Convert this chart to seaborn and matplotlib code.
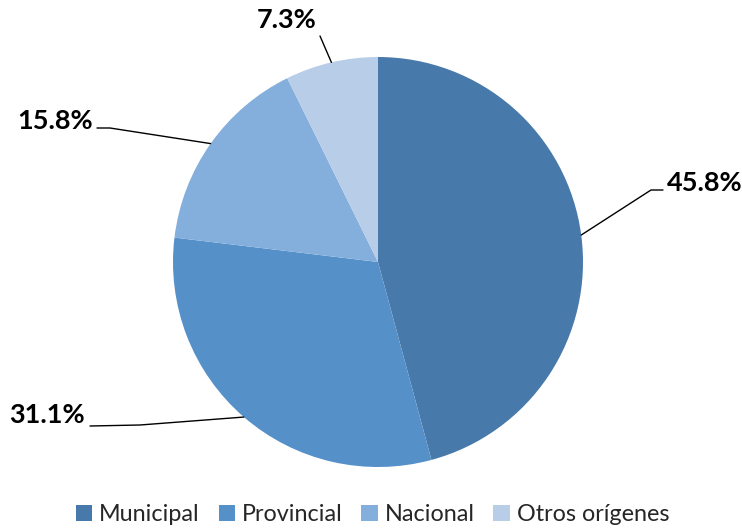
import numpy as np
import matplotlib.pyplot as plt
import seaborn as sns

categories = ['Municipal', 'Provincial', 'Nacional', 'Otros orígenes']
shares = [45.8, 31.1, 15.8, 7.3]
colors = ['#4779AA', '#5590C8', '#84AEDC', '#B7CDE8']

# label anchors (pixel coords from the top-left) and elbow points of the leader lines
label_pos = [(667, 183), (85, 415), (93, 121), (287, 20)]
label_ha = ['left', 'right', 'right', 'center']
elbows = [[(651, 190), (663, 190)], [(140, 425), (90, 426)], [(110, 128), (97, 128)], [(320, 36)]]

sns.set_theme(style="white")
plt.rcParams['font.family'] = ['Lato', 'DejaVu Sans']

W, H = 742, 529
fig = plt.figure(figsize=(W / 100, H / 100), dpi=100)
ax = fig.add_axes([0, 0, 1, 1])
cx, cy, r = 378, H - 262, 205

wedges, _ = ax.pie(shares, colors=colors, startangle=90, counterclock=False,
                   center=(cx, cy), radius=r, frame=True,
                   wedgeprops=dict(linewidth=0))

for w, pts in zip(wedges, elbows):
    ang = np.deg2rad((w.theta1 + w.theta2) / 2)
    x0, y0 = cx + r * np.cos(ang), cy + r * np.sin(ang)
    xs = [x0] + [p[0] for p in pts]
    ys = [y0] + [H - p[1] for p in pts]
    ax.plot(xs, ys, color='black', lw=1)

for s, (tx, ty), ha in zip(shares, label_pos, label_ha):
    ax.text(tx, H - ty, f'{s:.1f}%', ha=ha, va='center', fontsize=19.5, fontweight='bold', color='black')

ax.set_xlim(0, W)
ax.set_ylim(0, H)
ax.set_aspect('equal')
ax.axis('off')

leg = ax.legend(wedges, categories, loc='lower center', bbox_to_anchor=(0.502, -0.032), ncol=4,
                frameon=False, fontsize=16.8, handlelength=0.7, handleheight=0.7,
                handletextpad=0.3, columnspacing=0.8)

fig.savefig('out.png', dpi=100)
